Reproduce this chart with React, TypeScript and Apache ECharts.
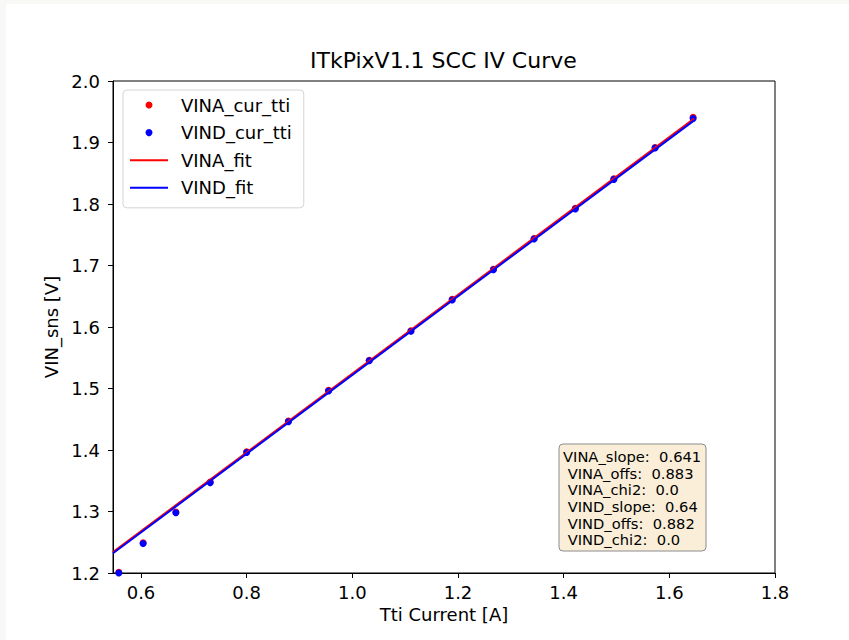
import React, { useEffect, useRef } from "react";
import * as echarts from "echarts";

// Tti current [A] (shared by both rails)
const currentX = [0.558, 0.604, 0.666, 0.731, 0.8, 0.879, 0.955, 1.032, 1.111, 1.189, 1.267, 1.344, 1.422, 1.495, 1.573, 1.645];
// VINA_cur_tti [V]
const vinaY = [1.201, 1.249, 1.299, 1.348, 1.397, 1.447, 1.497, 1.546, 1.594, 1.645, 1.694, 1.744, 1.793, 1.841, 1.892, 1.941];
// VIND_cur_tti [V]
const vindY = [1.2, 1.248, 1.298, 1.347, 1.396, 1.446, 1.496, 1.545, 1.593, 1.644, 1.693, 1.743, 1.792, 1.84, 1.891, 1.939];

// fit line end points
const fitX = [0.547, 1.647];
const vinaFitY = [1.234, 1.939];
const vindFitY = [1.232, 1.936];

const xTicks = [0.6, 0.8, 1.0, 1.2, 1.4, 1.6, 1.8];
const yTicks = [1.2, 1.3, 1.4, 1.5, 1.6, 1.7, 1.8, 1.9, 2.0];

const statLines = [
  "VINA_slope:  0.641",
  " VINA_offs:  0.883",
  " VINA_chi2:  0.0",
  " VIND_slope:  0.64",
  " VIND_offs:  0.882",
  " VIND_chi2:  0.0",
];

const FONT = "DejaVu Sans";

function pairs(xs: number[], ys: number[]) {
  return xs.map((x, i) => [x, ys[i]]);
}

export default function App() {
  const ref = useRef<HTMLDivElement>(null);
  useEffect(() => {
    document.body.style.margin = "0";
    const chart = echarts.init(ref.current!, null, { renderer: "svg" });
    chart.setOption({
      animation: false,
      backgroundColor: "#ffffff",
      title: {
        text: "ITkPixV1.1 SCC IV Curve",
        left: 310,
        top: 49,
        padding: 0,
        textStyle: { fontFamily: FONT, fontSize: 22, fontWeight: "normal", color: "#000", lineHeight: 22 },
      },
      grid: {
        left: 113,
        top: 81,
        width: 662,
        height: 492,
        show: true,
        borderColor: "#000",
        borderWidth: 1,
        backgroundColor: "transparent",
      },
      legend: {
        orient: "vertical",
        left: 123,
        top: 90,
        padding: [6, 12, 11, 6],
        itemGap: 9.6,
        itemWidth: 38,
        itemHeight: 7,
        backgroundColor: "rgba(255,255,255,0.8)",
        borderColor: "#d4d4d4",
        borderWidth: 1,
        borderRadius: 4,
        textStyle: { fontFamily: FONT, fontSize: 18, color: "#000", lineHeight: 18, padding: [0, 0, 0, 8] },
        data: [
          { name: "VINA_cur_tti", icon: "circle" },
          { name: "VIND_cur_tti", icon: "circle" },
          { name: "VINA_fit", itemStyle: { opacity: 0 } },
          { name: "VIND_fit", itemStyle: { opacity: 0 } },
        ],
      },
      xAxis: {
        type: "value",
        min: 0.547,
        max: 1.8,
        name: "Tti Current [A]",
        nameLocation: "middle",
        nameGap: 32,
        nameTextStyle: { fontFamily: FONT, fontSize: 18, color: "#000", lineHeight: 18 },
        axisLine: { show: true, lineStyle: { color: "#000", width: 1 } },
        axisTick: { show: true, length: 5, lineStyle: { color: "#000", width: 1 }, customValues: xTicks },
        axisLabel: {
          fontFamily: FONT,
          fontSize: 18,
          color: "#000",
          lineHeight: 18,
          margin: 10,
          customValues: xTicks,
          formatter: (v: number) => v.toFixed(1),
        },
        splitLine: { show: false },
      },
      yAxis: {
        type: "value",
        min: 1.2,
        max: 2.0,
        name: "VIN_sns [V]",
        nameLocation: "middle",
        nameGap: 50,
        nameTextStyle: { fontFamily: FONT, fontSize: 18, color: "#000", lineHeight: 18 },
        axisLine: { show: true, lineStyle: { color: "#000", width: 1 } },
        axisTick: { show: true, length: 5, lineStyle: { color: "#000", width: 1 }, customValues: yTicks },
        axisLabel: {
          fontFamily: FONT,
          fontSize: 18,
          color: "#000",
          lineHeight: 18,
          margin: 13,
          customValues: yTicks,
          formatter: (v: number) => v.toFixed(1),
        },
        splitLine: { show: false },
      },
      series: [
        {
          name: "VINA_cur_tti",
          type: "scatter",
          symbol: "circle",
          symbolSize: 7,
          itemStyle: { color: "#ff0000", opacity: 1 },
          data: pairs(currentX, vinaY),
        },
        {
          name: "VIND_cur_tti",
          type: "scatter",
          symbol: "circle",
          symbolSize: 7,
          itemStyle: { color: "#0000ff", opacity: 1 },
          data: pairs(currentX, vindY),
        },
        {
          name: "VINA_fit",
          type: "line",
          symbol: "none",
          color: "#ff0000",
          lineStyle: { color: "#ff0000", width: 2 },
          data: pairs(fitX, vinaFitY),
        },
        {
          name: "VIND_fit",
          type: "line",
          symbol: "none",
          color: "#0000ff",
          lineStyle: { color: "#0000ff", width: 2 },
          data: pairs(fitX, vindFitY),
        },
      ],
      graphic: [
        { type: "rect", silent: true, shape: { x: 0, y: 0, width: 849, height: 4 }, style: { fill: "#f8f8f6" } },
        { type: "rect", silent: true, shape: { x: 0, y: 0, width: 6, height: 640 }, style: { fill: "#f8f8f6" } },
        {
          type: "rect",
          z: 100,
          shape: { x: 559, y: 444, width: 147, height: 107, r: 4 },
          style: { fill: "#faeed9", stroke: "#8c8c8c", lineWidth: 1 },
        },
        {
          type: "text",
          z: 101,
          x: 563,
          y: 448.4,
          style: {
            text: statLines.join("\n"),
            fontFamily: FONT,
            fontSize: 14.7,
            lineHeight: 16.6,
            fill: "#000",
            align: "left",
            verticalAlign: "top",
          },
        },
      ],
    });
    return () => chart.dispose();
  }, []);
  return <div ref={ref} style={{ width: 849, height: 640 }} />;
}
